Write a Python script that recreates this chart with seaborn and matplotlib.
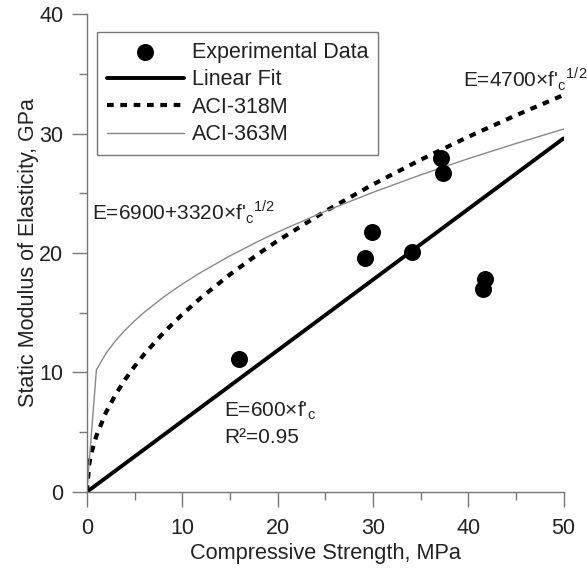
import matplotlib
matplotlib.use("Agg")
import matplotlib.pyplot as plt
from matplotlib.ticker import MultipleLocator
import seaborn as sns
import pandas as pd

# Experimental data (MPa, GPa)
exp_fc = [16.0, 29.2, 29.9, 34.1, 37.2, 37.4, 41.6, 41.8]
exp_E = [11.1, 19.6, 21.8, 20.1, 28.0, 26.7, 17.0, 17.8]

# Linear fit
fit_fc = [0, 50]
fit_E = [0, 29.6]

# ACI-318M curve
aci318_fc = [0, 0.25, 0.5, 1, 2, 3, 4, 5, 6, 8, 10, 12, 15, 18, 20, 25, 30, 35, 40, 45, 50]
aci318_E = [0, 2.35, 3.32, 4.70, 6.65, 8.14, 9.40, 10.51, 11.51, 13.29, 14.86, 16.28,
            18.20, 19.94, 21.02, 23.50, 25.74, 27.81, 29.73, 31.53, 33.23]

# ACI-363M curve
aci363_fc = [0, 1, 2, 3, 4, 5, 6, 8, 10, 12, 15, 18, 20, 25, 30, 35, 40, 45, 50]
aci363_E = [0, 10.22, 11.60, 12.65, 13.54, 14.32, 15.03, 16.29, 17.40, 18.40, 19.76,
            20.99, 21.75, 23.50, 25.08, 26.54, 27.90, 29.17, 30.38]

sns.set_style("ticks")
plt.rcParams['font.family'] = ['Liberation Sans', 'DejaVu Sans']
plt.rcParams['mathtext.fontset'] = 'custom'
plt.rcParams['mathtext.rm'] = 'Liberation Sans'

fig = plt.figure(figsize=(5.87, 5.68), dpi=100)
ax = fig.add_axes([0.148, 0.134, 0.812, 0.841])

df_exp = pd.DataFrame({"fc": exp_fc, "E": exp_E})
df_fit = pd.DataFrame({"fc": fit_fc, "E": fit_E})
df_318 = pd.DataFrame({"fc": aci318_fc, "E": aci318_E})
df_363 = pd.DataFrame({"fc": aci363_fc, "E": aci363_E})

sns.scatterplot(data=df_exp, x="fc", y="E", ax=ax, color="black", s=150,
                edgecolor="black", linewidth=0, label="Experimental Data", zorder=5)
sns.lineplot(data=df_fit, x="fc", y="E", ax=ax, color="black", linewidth=2.8,
             label="Linear Fit")
sns.lineplot(data=df_318, x="fc", y="E", ax=ax, color="black", linewidth=3.0,
             label="ACI-318M")
ax.lines[-1].set_dashes([1.6, 1.6])
sns.lineplot(data=df_363, x="fc", y="E", ax=ax, color="#888888", linewidth=1.0,
             label="ACI-363M")

ax.set_xlim(0, 50)
ax.set_ylim(0, 40)
ax.xaxis.set_major_locator(MultipleLocator(10))
ax.xaxis.set_minor_locator(MultipleLocator(5))
ax.yaxis.set_major_locator(MultipleLocator(10))
ax.yaxis.set_minor_locator(MultipleLocator(5))
ax.tick_params(which="major", length=11, width=1.0, color="#777777", labelsize=15.5,
               direction="out", labelcolor="#222222")
ax.tick_params(axis="x", which="major", pad=8)
ax.tick_params(axis="y", which="major", pad=6)
ax.tick_params(which="minor", length=6, width=1.0, color="#777777", direction="out")
for sp in ["top", "right"]:
    ax.spines[sp].set_visible(False)
for sp in ["left", "bottom"]:
    ax.spines[sp].set_color("#777777")
    ax.spines[sp].set_linewidth(1.0)

ax.set_xlabel("Compressive Strength, MPa", fontsize=15.7, color="#222222", labelpad=3)
ax.set_ylabel("Static Modulus of Elasticity, GPa", fontsize=15.5, color="#222222", labelpad=0)

leg = ax.legend(loc="upper left", bbox_to_anchor=(0.021, 0.962), fontsize=15.5,
                frameon=True, fancybox=False, edgecolor="#777777", framealpha=1,
                handlelength=3.6, borderpad=0.45, labelspacing=0.3, handletextpad=0.35,
                borderaxespad=0)
leg.get_frame().set_linewidth(1.0)
for t in leg.get_texts():
    t.set_color("#222222")

tc = "#222222"
fs = 15
ax.text(39.45, 33.9, r"E=4700×f'$_\mathregular{c}$$^\mathregular{1/2}$", fontsize=fs, color=tc)
ax.text(0.5, 22.76, r"E=6900+3320×f'$_\mathregular{c}$$^\mathregular{1/2}$", fontsize=fs, color=tc)
ax.text(14.4, 6.28, r"E=600×f'$_\mathregular{c}$", fontsize=fs, color=tc)
ax.text(14.4, 4.1, "R²=0.95", fontsize=fs, color=tc)

fig.savefig("out.png", dpi=100)
